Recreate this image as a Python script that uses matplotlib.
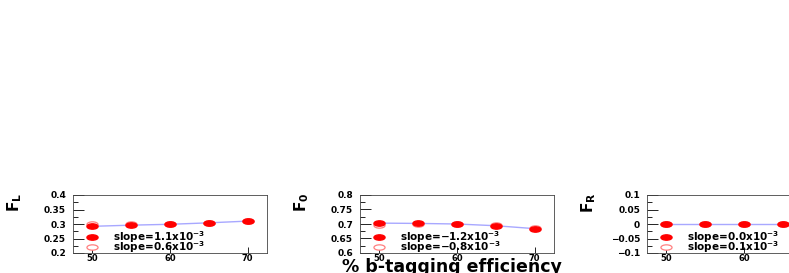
import numpy as np
import matplotlib
matplotlib.use("Agg")
import matplotlib.pyplot as plt
from matplotlib.path import Path
from matplotlib.ticker import MultipleLocator

# b-tagging efficiency working points (%)
eff = [50, 55, 60, 65, 70]

fl_filled = [0.292, 0.296, 0.299, 0.304, 0.310]
fl_open = [0.300, 0.299, 0.300, 0.304, 0.311]
f0_filled = [0.703, 0.702, 0.700, 0.694, 0.684]
f0_open = [0.698, 0.701, 0.701, 0.695, 0.686]
fr_filled = [0.0, 0.0, 0.0, 0.0, 0.0]
fr_open = [0.0, 0.0, 0.0, 0.0, 0.0]

ylabels = ["F$_\\mathregular{L}$", "F$_\\mathregular{0}$", "F$_\\mathregular{R}$"]
ylims = [(0.2, 0.4), (0.6, 0.8), (-0.1, 0.1)]
yticks = [[0.2, 0.25, 0.3, 0.35, 0.4],
          [0.6, 0.65, 0.7, 0.75, 0.8],
          [-0.1, -0.05, 0, 0.05, 0.1]]
yticklabels = [["0.2", "0.25", "0.3", "0.35", "0.4"],
               ["0.6", "0.65", "0.7", "0.75", "0.8"],
               ["\u22120.1", "\u22120.05", "0", "0.05", "0.1"]]
slopes_filled = ["1.1", "\u22121.2", "0.0"]
slopes_open = ["0.6", "\u22120.8", "0.1"]

# squashed circle marker (the original picture is compressed vertically)
circ = Path.unit_circle()
ell = Path(circ.vertices * [1.0, 0.48], circ.codes)

fig = plt.figure(figsize=(7.89, 2.73), dpi=100)

lefts = [73, 360, 647]
panels = [(fl_filled, fl_open), (f0_filled, f0_open), (fr_filled, fr_open)]

for i, (filled, opn) in enumerate(panels):
    ax = fig.add_axes([lefts[i] / 789, 20 / 273, 194 / 789, 58 / 273])
    ax.plot(eff, filled, color="#a8a8ff", lw=1.0, zorder=1)
    ax.plot(eff, opn, ls="none", marker=ell, ms=8, mfc="white",
            mec="#ff8080", mew=0.9, zorder=2)
    ax.plot(eff, filled, ls="none", marker=ell, ms=8, mfc="red",
            mec="red", zorder=3)

    lo, hi = ylims[i]
    ax.set_xlim(47.5, 72.5)
    ax.set_ylim(lo, hi)
    ax.set_xticks([50, 60, 70])
    ax.set_yticks(yticks[i])
    ax.set_yticklabels(yticklabels[i])
    ax.yaxis.set_minor_locator(MultipleLocator(0.025))
    ax.tick_params(axis="y", which="major", direction="in", length=8,
                   width=0.6, labelsize=6.5, pad=5, right=False)
    ax.tick_params(axis="y", which="minor", direction="in", length=3.5,
                   width=0.6, right=False)
    ax.tick_params(axis="x", direction="in", length=4, width=0.6,
                   labelsize=6, pad=0.5, top=False)
    for lab in ax.get_xticklabels() + ax.get_yticklabels():
        lab.set_fontweight("bold")
    for sp in ax.spines.values():
        sp.set_linewidth(0.6)
        sp.set_color("#444444")

    # legend drawn as in the original ROOT canvas
    span = hi - lo
    y1 = lo + 0.27 * span
    y2 = lo + 0.10 * span
    ax.plot([50], [y1], ls="none", marker=ell, ms=8, mfc="red", mec="red")
    ax.plot([50], [y2], ls="none", marker=ell, ms=8, mfc="white",
            mec="#ff8080", mew=0.9)
    ax.text(52.6, y1, "slope=" + slopes_filled[i] + "x10$^{\\mathbf{-3}}$",
            fontsize=7.5, fontweight="bold", va="center", ha="left")
    ax.text(52.6, y2, "slope=" + slopes_open[i] + "x10$^{\\mathbf{-3}}$",
            fontsize=7.5, fontweight="bold", va="center", ha="left")

    ax.text(-0.3, 1.04, ylabels[i], transform=ax.transAxes, rotation=90,
            fontsize=11, fontweight="bold", ha="center", va="top")

fig.text(452 / 789, 1 - 272.5 / 273, "% b-tagging efficiency", fontsize=12.5,
         fontweight="bold", ha="center", va="baseline")

fig.savefig("out.png", dpi=100)
